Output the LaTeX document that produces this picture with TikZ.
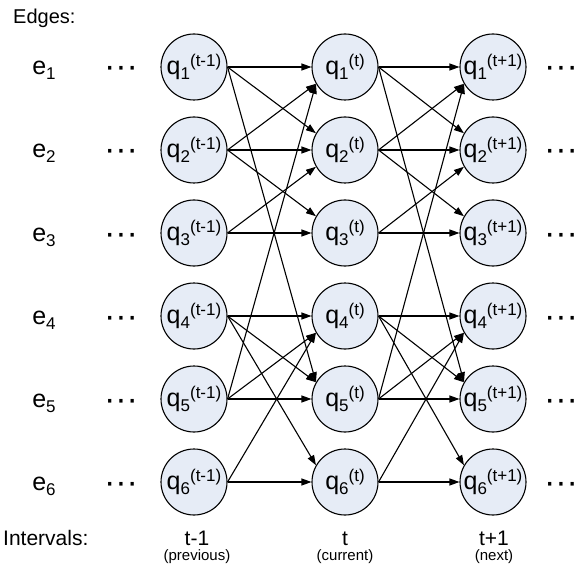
\documentclass[tikz,border=0pt]{standalone}
\usepackage{fontspec}
\setmainfont{Liberation Sans}
\usetikzlibrary{arrows.meta}
\definecolor{nodefill}{RGB}{230,236,246}
\newcommand\qlab[2]{q\raisebox{-5pt}{\fontsize{17}{17}\selectfont #1}\raisebox{8pt}{\fontsize{17}{17}\selectfont(#2)}}
\newcommand\elab[1]{e\raisebox{-5pt}{\fontsize{17}{17}\selectfont #1}}
\begin{document}
\begin{tikzpicture}[x=1pt,y=-1pt,
  state/.style={circle,draw,line width=1.1pt,fill=nodefill,minimum size=66pt,inner sep=0pt,font=\fontsize{25}{25}\selectfont},
  link/.style={line width=1.1pt,-{Triangle[length=10pt,width=7pt]}},
  rowlab/.style={anchor=base,font=\fontsize{25}{25}\selectfont,inner sep=0pt},
  dotlab/.style={anchor=base,font=\fontsize{34}{34}\selectfont,inner sep=0pt},
  head/.style={anchor=base west,font=\fontsize{20}{20}\selectfont,inner sep=0pt},
  intlab/.style={anchor=base,font=\fontsize{21}{21}\selectfont,inner sep=0pt},
  sublab/.style={anchor=base,font=\fontsize{15}{15}\selectfont,inner sep=0pt}]
\useasboundingbox (0,0) rectangle (578,564);
\node[head] (edges) at (13,24) {Edges:};
\foreach \r/\y in {1/67,2/150,3/233,4/316,5/399,6/482} {
  \node[rowlab] (e\r) at (44,\y+8) {\elab{\r}};
  \node[dotlab] (ld\r) at (121,\y+11) {···};
  \node[dotlab] (rd\r) at (561,\y+11) {···};
  \node[state] (a\r) at (194,\y) {\qlab{\r}{t-1}};
  \node[state] (b\r) at (345,\y) {\qlab{\r}{t}};
  \node[state] (c\r) at (493,\y) {\qlab{\r}{t+1}};
}
\foreach \i/\j/\an in {1/1/west,1/2/150,1/5/150,2/1/210,2/2/west,2/3/150,3/2/210,3/3/west,4/4/west,4/5/150,4/6/150,5/1/210,5/4/210,5/5/west,6/4/210,6/6/west} {
  \draw[link] (a\i.east) -- (b\j.\an);
  \draw[link] (b\i.east) -- (c\j.\an);
}
\node[head,font=\fontsize{21}{21}\selectfont] (intervals) at (3,545) {Intervals:};
\node[intlab] (i1) at (197,545) {t-1};
\node[intlab] (i2) at (345,545) {t};
\node[intlab] (i3) at (494,545) {t+1};
\node[sublab] (s1) at (197,560.5) {(previous)};
\node[sublab] (s2) at (345,560.5) {(current)};
\node[sublab] (s3) at (494,560.5) {(next)};
\end{tikzpicture}
\end{document}
